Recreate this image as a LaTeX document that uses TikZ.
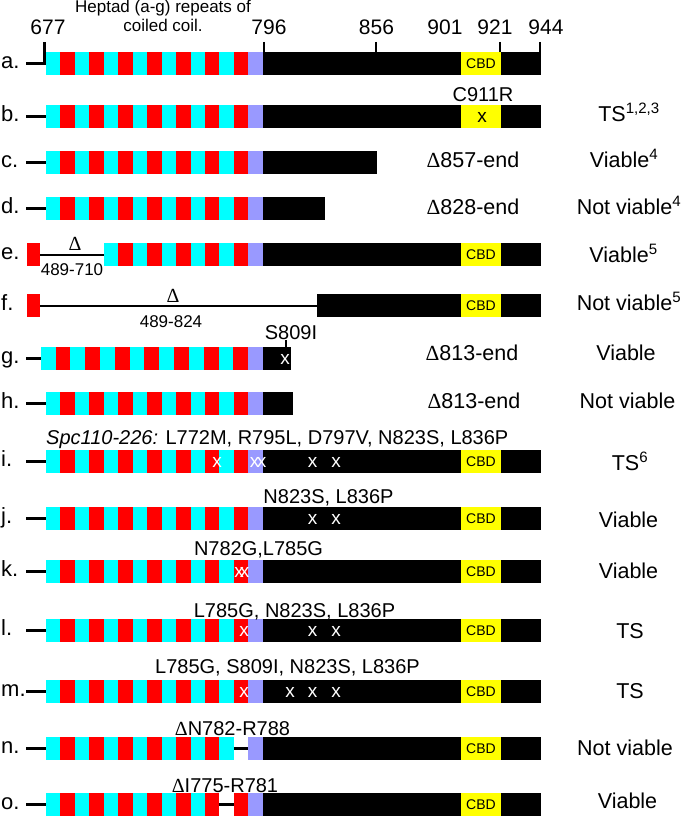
\documentclass[tikz,border=0pt]{standalone}
\usepackage{fontspec}
\setmainfont{Liberation Sans}
\newfontfamily\dfont{Liberation Serif}
\newcommand\fsz[1]{\fontsize{#1}{#1}\selectfont}
\newcommand\dlt{{\dfont Δ}}
\definecolor{hcyan}{RGB}{0,255,255}
\definecolor{hred}{RGB}{255,0,0}
\definecolor{hlav}{RGB}{153,153,255}
\definecolor{hyel}{RGB}{255,255,0}
\tikzset{
 lead/.style={line width=2.2pt},
 tickline/.style={line width=2pt},
 rowlab/.style={anchor=base west, inner sep=0pt, font=\fsz{22}},
 num/.style={anchor=base, inner sep=0pt, font=\fsz{21}},
 ann/.style={anchor=base, inner sep=0pt, font=\fsz{20}},
 res/.style={anchor=base, inner sep=0pt, font=\fsz{21.5}},
 small/.style={anchor=base, inner sep=0pt, font=\fsz{17}},
 cbdtext/.style={inner sep=0pt, font=\fsz{14}},
 xw/.style={inner sep=0pt, text=white, font=\fsz{19}},
 xb/.style={inner sep=0pt, text=black, font=\fsz{19}},
}
\newcommand\heptsegs[4]{%
 \foreach \i in {#4}{%
  \ifodd\i\relax \def\segcol{hred}\else \def\segcol{hcyan}\fi
  \fill[\segcol] ({#2+\i*#3},#1) rectangle ({#2+(\i+1)*#3},{#1+23});
 }}
\newcommand\lavseg[1]{\fill[hlav] (248.2,#1) rectangle (262.9,{#1+23});}
\newcommand\blkseg[3]{\fill[black] (#2,#1) rectangle (#3,{#1+23});}
\newcommand\cbdbox[2]{\fill[hyel] (461,#1) rectangle (501,{#1+23});
 \node[cbdtext] (#2) at (481,{#1+11.5}) {CBD};}
\begin{document}
\begin{tikzpicture}[x=1pt,y=-1pt]
\useasboundingbox (0,0) rectangle (684,816);

% title and numbers
\node[small] (title1) at (163,12.7) {Heptad (a-g) repeats of};
\node[small] (title2) at (163,31.7) {coiled coil.};
\node[num] (n677) at (48,35) {677};
\node[num] (n796) at (269,35) {796};
\node[num] (n856) at (376.5,35) {856};
\node[num] (n901) at (445,35) {901};
\node[num] (n921) at (495,35) {921};
\node[num] (n944) at (546,35) {944};

% row a
\heptsegs{52}{46}{14.45}{0,...,13}
\lavseg{52}
\blkseg{52}{262.7}{541}
\cbdbox{52}{cbda}
\node[rowlab] (la) at (1,69) {a.};
\coordinate (a0) at (26,63.5);
\coordinate (a1) at (44.5,63.5);
\coordinate (a2) at (44.5,42);
\draw[lead] (a0) -- (a1) -- (a2);
\coordinate (t796a) at (263.8,42); \coordinate (t796b) at (263.8,52);
\coordinate (t856a) at (376.2,42); \coordinate (t856b) at (376.2,52);
\coordinate (t921a) at (499.8,42); \coordinate (t921b) at (499.8,52);
\coordinate (t944a) at (539.7,42); \coordinate (t944b) at (539.7,52);
\draw[tickline] (t796a) -- (t796b);
\draw[tickline] (t856a) -- (t856b);
\draw[tickline] (t921a) -- (t921b);
\draw[tickline] (t944a) -- (t944b);

% row b
\heptsegs{105}{46}{14.45}{0,...,13}
\lavseg{105}
\blkseg{105}{262.7}{541}
\fill[hyel] (461,105) rectangle (501,128);
\node[xb] (xb1) at (482,117.5) {x};
\node[rowlab] (lb) at (1,121.5) {b.};
\draw[lead] (26,116.5) -- (46,116.5);
\node[ann] (mb) at (483,101) {C911R};
\node[res] (rb) at (629,121) {TS\textsuperscript{1,2,3}};

% row c
\heptsegs{151}{46}{14.45}{0,...,13}
\lavseg{151}
\blkseg{151}{262.7}{377}
\node[rowlab] (lc) at (1,167.5) {c.};
\draw[lead] (26,162.5) -- (46,162.5);
\node[res] (dc) at (473,167) {\dlt857-end};
\node[res] (rc) at (624,167) {Viable\textsuperscript{4}};

% row d
\heptsegs{197}{46}{14.45}{0,...,13}
\lavseg{197}
\blkseg{197}{262.7}{325}
\node[rowlab] (ld) at (1,213.5) {d.};
\draw[lead] (26,208.5) -- (46,208.5);
\node[res] (dd) at (473,214) {\dlt828-end};
\node[res] (rd) at (629,214) {Not viable\textsuperscript{4}};

% row e
\fill[hred] (26.7,243) rectangle (40,266);
\heptsegs{243}{46}{14.45}{4,...,13}
\lavseg{243}
\blkseg{243}{262.7}{541}
\cbdbox{243}{cbde}
\node[rowlab] (le) at (1,259.5) {e.};
\draw[lead] (40,255) -- (104,255);
\node[anchor=base, inner sep=0pt, font=\fsz{20}] (de) at (75,250) {\dlt};
\node[small] (ge) at (72,275) {489-710};
\node[res] (re) at (623.5,262) {Viable\textsuperscript{5}};

% row f
\fill[hred] (26.5,294) rectangle (40,317);
\blkseg{294}{317}{541}
\cbdbox{294}{cbdf}
\node[rowlab] (lf) at (1,310.5) {f.};
\draw[lead] (40,306) -- (317,306);
\node[anchor=base, inner sep=0pt, font=\fsz{20}] (df) at (173,302) {\dlt};
\node[small] (gf) at (171,327) {489-824};
\node[res] (rf) at (629,310) {Not viable\textsuperscript{5}};

% row g
\heptsegs{347}{40.7}{14.82}{0,...,13}
\lavseg{347}
\blkseg{347}{262.7}{290.7}
\node[rowlab] (lg) at (1,363.5) {g.};
\draw[lead] (26,358.5) -- (40.7,358.5);
\node[ann] (mg) at (291,339) {S809I};
\draw[line width=1.5pt] (286,340) -- (286,347);
\node[xw] (xg1) at (285,359.5) {x};
\node[res] (dg) at (472,360) {\dlt813-end};
\node[res] (rg) at (626,360) {Viable};

% row h
\heptsegs{392}{46}{14.45}{0,...,13}
\lavseg{392}
\blkseg{392}{262.7}{293}
\node[rowlab] (lh) at (1,408.5) {h.};
\draw[lead] (26,403.5) -- (46,403.5);
\node[res] (dh) at (474,408) {\dlt813-end};
\node[res] (rh) at (627.5,408) {Not viable};

% row i
\heptsegs{450}{46}{14.45}{0,...,13}
\lavseg{450}
\blkseg{450}{262.7}{541}
\cbdbox{450}{cbdi}
\node[rowlab] (li) at (1,466.5) {i.};
\draw[lead] (26,461.5) -- (46,461.5);
\node[ann, anchor=base west] (mi) at (46,444) {\textit{Spc110-226:} L772M, R795L, D797V, N823S, L836P};
\node[xw] (xi1) at (217,462.5) {x};
\node[xw] (xi2) at (254.5,462.5) {x};
\node[xw] (xi3) at (261.5,462.5) {x};
\node[xw] (xi4) at (312.5,462.5) {x};
\node[xw] (xi5) at (336,462.5) {x};
\node[res] (ri) at (630,470) {TS\textsuperscript{6}};

% row j
\heptsegs{507}{46}{14.45}{0,...,13}
\lavseg{507}
\blkseg{507}{262.7}{541}
\cbdbox{507}{cbdj}
\node[rowlab] (lj) at (1,523.5) {j.};
\draw[lead] (26,518.5) -- (46,518.5);
\node[ann] (mj) at (328.5,503) {N823S, L836P};
\node[xw] (xj1) at (312.5,519.5) {x};
\node[xw] (xj2) at (336,519.5) {x};
\node[res] (rj) at (628.5,527) {Viable};

% row k
\heptsegs{560}{46}{14.45}{0,...,13}
\lavseg{560}
\blkseg{560}{262.7}{541}
\cbdbox{560}{cbdk}
\node[rowlab] (lk) at (1,576.5) {k.};
\draw[lead] (26,571.5) -- (46,571.5);
\node[ann] (mk) at (258.5,555) {N782G,L785G};
\node[xw] (xk1) at (239,572.5) {x};
\node[xw] (xk2) at (244.5,572.5) {x};
\node[res] (rk) at (628.5,578) {Viable};

% row l
\heptsegs{619}{46}{14.45}{0,...,13}
\lavseg{619}
\blkseg{619}{262.7}{541}
\cbdbox{619}{cbdl}
\node[rowlab] (ll) at (1,635.5) {l.};
\draw[lead] (26,630.5) -- (46,630.5);
\node[ann] (ml) at (294.5,617) {L785G, N823S, L836P};
\node[xw] (xl1) at (244,631.5) {x};
\node[xw] (xl2) at (312.5,631.5) {x};
\node[xw] (xl3) at (336,631.5) {x};
\node[res] (rl) at (630,638) {TS};

% row m
\heptsegs{680}{46}{14.45}{0,...,13}
\lavseg{680}
\blkseg{680}{262.7}{541}
\cbdbox{680}{cbdm}
\node[rowlab] (lm) at (1,696.5) {m.};
\draw[lead] (26,691.5) -- (46,691.5);
\node[ann] (mm) at (287.5,673) {L785G, S809I, N823S, L836P};
\node[xw] (xm1) at (244,692.5) {x};
\node[xw] (xm2) at (290,692.5) {x};
\node[xw] (xm3) at (312.5,692.5) {x};
\node[xw] (xm4) at (336,692.5) {x};
\node[res] (rm) at (630,698) {TS};

% row n
\heptsegs{737}{46}{14.45}{0,...,12}
\lavseg{737}
\blkseg{737}{262.7}{541}
\cbdbox{737}{cbdn}
\node[rowlab] (ln) at (1,753.5) {n.};
\draw[lead] (26,748.5) -- (46,748.5);
\draw[lead] (233.8,748.5) -- (248.2,748.5);
\node[ann] (mn) at (232.5,735) {\dlt N782-R788};
\node[res] (rn) at (625,755) {Not viable};

% row o
\heptsegs{793}{46}{14.45}{0,...,11,13}
\lavseg{793}
\blkseg{793}{262.7}{541}
\cbdbox{793}{cbdo}
\node[rowlab] (lo) at (1,809.5) {o.};
\draw[lead] (26,804.5) -- (46,804.5);
\draw[lead] (219.3,804.5) -- (233.8,804.5);
\node[ann] (mo) at (225,792) {\dlt I775-R781};
\node[res] (ro) at (627.5,808) {Viable};
\end{tikzpicture}
\end{document}
